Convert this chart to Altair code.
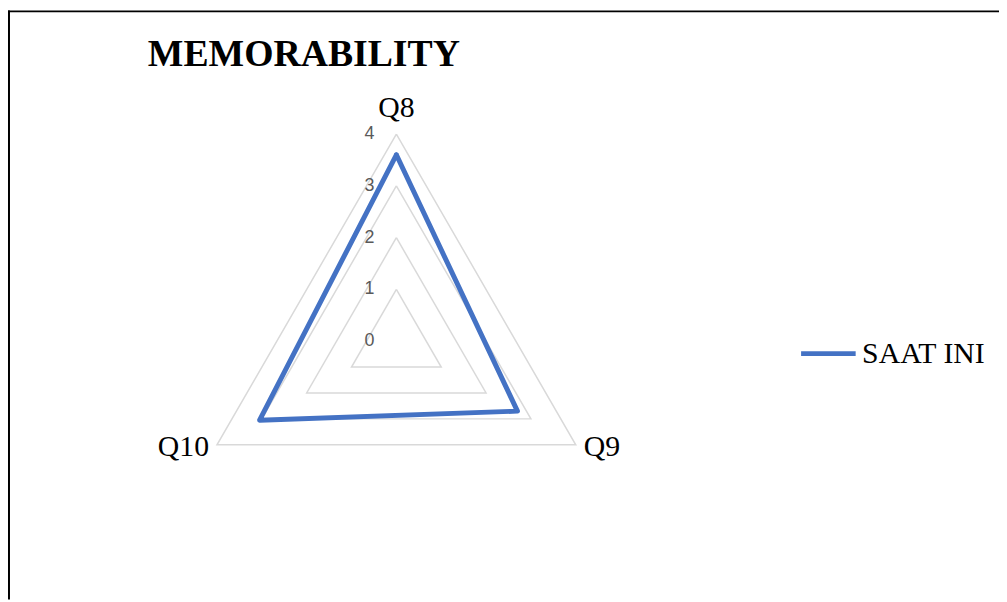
import math
import altair as alt
import pandas as pd

categories = ["Q8", "Q9", "Q10"]
values = [3.6, 2.7, 3.05]
grid_levels = [1, 2, 3, 4]
tick_values = [0, 1, 2, 3, 4]
series_name = "SAAT INI"
title_text = "MEMORABILITY"

# geometry helpers (chart coordinates)
W, H = 999, 594
U = 52.2
CX, CY = 391.5, 333.5


def ang(i):
    return math.radians(90 - 120 * i)


rows = []
for k in range(len(categories) + 1):
    i = k % len(categories)
    rows.append({"order": k, "cat": categories[i], "series": series_name,
                 "x": values[i] * math.cos(ang(i)), "y": values[i] * math.sin(ang(i))})
data_df = pd.DataFrame(rows)

grows = []
for lv in grid_levels:
    for k in range(len(categories) + 1):
        i = k % len(categories)
        grows.append({"level": lv, "order": k,
                      "x": lv * math.cos(ang(i)), "y": lv * math.sin(ang(i))})
grid_df = pd.DataFrame(grows)

tick_df = pd.DataFrame({"v": tick_values, "label": [str(t) for t in tick_values],
                        "x": [0.0] * len(tick_values), "y": [float(t) for t in tick_values]})

lab_df = pd.DataFrame({"cat": categories,
                       "x": [4 * math.cos(ang(i)) for i in range(3)],
                       "y": [4 * math.sin(ang(i)) for i in range(3)]})

xs = alt.Scale(domain=[-CX / U, (W - CX) / U], nice=False, zero=False)
ys = alt.Scale(domain=[-(H - CY) / U, CY / U], nice=False, zero=False)
X = alt.X("x:Q", scale=xs, axis=None)
Y = alt.Y("y:Q", scale=ys, axis=None)

grid = alt.Chart(grid_df).mark_line(color="#D9D9D9", strokeWidth=1.5).encode(
    x=X, y=Y, detail="level:N", order="order:Q")

line = alt.Chart(data_df).mark_line(strokeWidth=5, strokeJoin="round", strokeCap="round").encode(
    x=X, y=Y, order="order:Q",
    color=alt.Color("series:N", scale=alt.Scale(range=["#4472C4"]),
                    legend=alt.Legend(title=None, orient="none", legendX=797, legendY=316,
                                      symbolType="stroke", symbolSize=3025, symbolStrokeWidth=5,
                                      labelFont="Liberation Serif", labelFontSize=30,
                                      labelColor="#000000", labelOffset=4, labelLimit=300)))

ticks = alt.Chart(tick_df).mark_text(align="right", baseline="middle", dx=-22,
                                     font="Liberation Sans", fontSize=18, color="#595959").encode(
    x=X, y=Y, text="label:N")

base_lab = alt.Chart(lab_df)
lab_q8 = base_lab.transform_filter(alt.datum.cat == "Q8").mark_text(
    align="center", baseline="alphabetic", dy=-17, font="Liberation Serif", fontSize=30, color="#000000").encode(
    x=X, y=Y, text="cat:N")
lab_q9 = base_lab.transform_filter(alt.datum.cat == "Q9").mark_text(
    align="left", baseline="middle", dx=8, dy=2, font="Liberation Serif", fontSize=30, color="#000000").encode(
    x=X, y=Y, text="cat:N")
lab_q10 = base_lab.transform_filter(alt.datum.cat == "Q10").mark_text(
    align="right", baseline="middle", dx=-8, dy=2, font="Liberation Serif", fontSize=30, color="#000000").encode(
    x=X, y=Y, text="cat:N")

title = alt.Chart(pd.DataFrame({"t": [title_text]})).mark_text(
    align="left", baseline="alphabetic", font="Liberation Serif", fontWeight="bold",
    fontSize=38, color="#000000").encode(x=alt.value(141), y=alt.value(56), text="t:N")

border_top = alt.Chart(pd.DataFrame({"a": [0]})).mark_rule(color="#000000", strokeWidth=2).encode(
    x=alt.value(0), x2=alt.value(W), y=alt.value(1))
border_left = alt.Chart(pd.DataFrame({"a": [0]})).mark_rule(color="#000000", strokeWidth=2).encode(
    x=alt.value(1), y=alt.value(0), y2=alt.value(H))

chart = alt.layer(border_top, border_left, grid, line, ticks, lab_q8, lab_q9, lab_q10, title).properties(
    width=W, height=H, padding=0, autosize=alt.AutoSizeParams(type="none")
).configure_view(stroke=None).configure_legend(padding=0)

chart.save("out.html", embed_options={"renderer": "svg", "actions": False})
